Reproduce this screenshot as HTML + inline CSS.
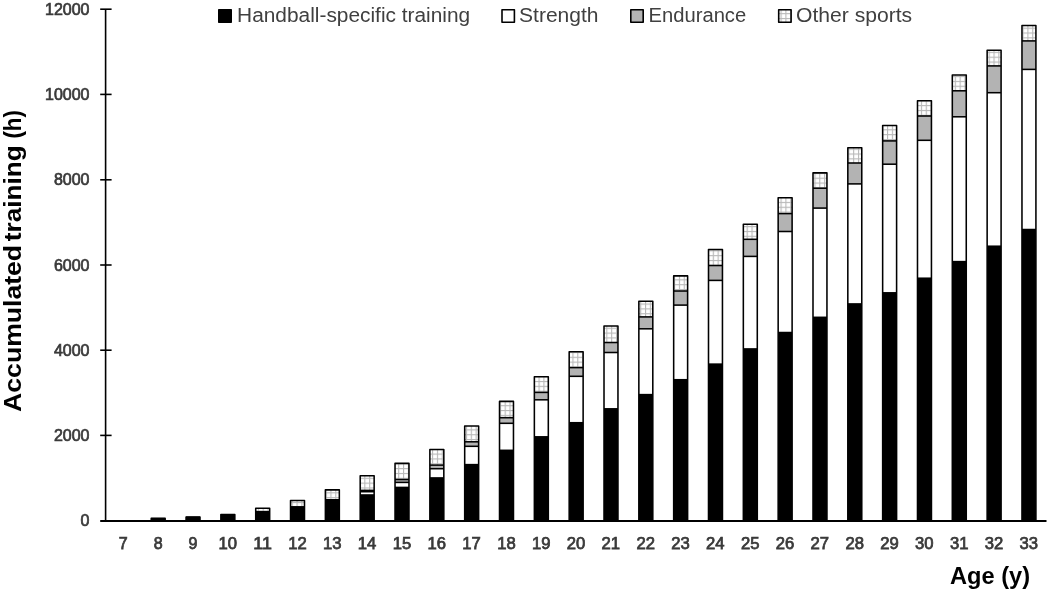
<!DOCTYPE html>
<html><head><meta charset="utf-8"><style>
html,body{margin:0;padding:0;background:#fff;}
body{width:1049px;height:591px;overflow:hidden;}
svg{display:block;filter:grayscale(1);}
text{font-family:"Liberation Sans",sans-serif;}
</style></head><body>
<svg width="1049" height="591" viewBox="0 0 1049 591">
<defs>
<pattern id="grid" patternUnits="userSpaceOnUse" width="4.84" height="4.84" x="1.290" y="3.450">
<rect width="4.84" height="4.84" fill="#fff"/>
<rect x="0" y="0" width="4.84" height="1.1" fill="#b8b8b8"/>
<rect x="0" y="0" width="1.1" height="4.84" fill="#b8b8b8"/>
</pattern>
</defs>
<rect width="1049" height="591" fill="#fff"/>

<rect x="151.22" y="518.38" width="13.95" height="2.23" fill="#fff"/>
<rect x="151.22" y="517.95" width="13.95" height="2.65" fill="#000"/>
<rect x="151.22" y="518.38" width="13.95" height="1.80" fill="none" stroke="#000" stroke-width="1.55" stroke-linejoin="round"/>
<rect x="186.06" y="516.98" width="13.95" height="3.62" fill="#fff"/>
<rect x="186.06" y="516.55" width="13.95" height="4.05" fill="#000"/>
<rect x="186.06" y="516.98" width="13.95" height="3.20" fill="none" stroke="#000" stroke-width="1.55" stroke-linejoin="round"/>
<rect x="220.88" y="514.57" width="13.95" height="6.03" fill="#fff"/>
<rect x="220.88" y="514.15" width="13.95" height="6.45" fill="#000"/>
<rect x="220.88" y="514.57" width="13.95" height="5.60" fill="none" stroke="#000" stroke-width="1.55" stroke-linejoin="round"/>
<rect x="255.72" y="508.27" width="13.95" height="12.33" fill="#fff"/>
<rect x="255.72" y="510.55" width="13.95" height="10.05" fill="#000"/>
<rect x="255.72" y="508.27" width="13.95" height="2.33" fill="url(#grid)"/>
<rect x="255.72" y="508.27" width="13.95" height="11.90" fill="none" stroke="#000" stroke-width="1.55" stroke-linejoin="round"/>
<rect x="290.54" y="500.57" width="13.95" height="20.03" fill="#fff"/>
<rect x="290.54" y="506.05" width="13.95" height="14.55" fill="#000"/>
<rect x="290.54" y="500.57" width="13.95" height="5.42" fill="url(#grid)"/>
<rect x="290.54" y="500.57" width="13.95" height="19.60" fill="none" stroke="#000" stroke-width="1.55" stroke-linejoin="round"/>
<rect x="325.38" y="489.87" width="13.95" height="30.73" fill="#fff"/>
<rect x="325.38" y="498.85" width="13.95" height="21.75" fill="#000"/>
<rect x="325.38" y="489.87" width="13.95" height="8.93" fill="url(#grid)"/>
<rect x="325.38" y="489.87" width="13.95" height="30.30" fill="none" stroke="#000" stroke-width="1.55" stroke-linejoin="round"/>
<rect x="360.20" y="475.77" width="13.95" height="44.83" fill="#fff"/>
<rect x="360.20" y="490.40" width="13.95" height="1.30" fill="#b3b3b3"/>
<rect x="360.20" y="494.20" width="13.95" height="26.40" fill="#000"/>
<rect x="360.20" y="475.77" width="13.95" height="14.62" fill="url(#grid)"/>
<rect x="360.20" y="489.62" width="13.95" height="1.55" fill="#000"/>
<rect x="360.20" y="490.93" width="13.95" height="1.55" fill="#000"/>
<rect x="360.20" y="475.77" width="13.95" height="44.40" fill="none" stroke="#000" stroke-width="1.55" stroke-linejoin="round"/>
<rect x="395.03" y="463.37" width="13.95" height="57.23" fill="#fff"/>
<rect x="395.03" y="479.50" width="13.95" height="2.90" fill="#b3b3b3"/>
<rect x="395.03" y="486.65" width="13.95" height="33.95" fill="#000"/>
<rect x="395.03" y="463.37" width="13.95" height="16.13" fill="url(#grid)"/>
<rect x="395.03" y="478.73" width="13.95" height="1.55" fill="#000"/>
<rect x="395.03" y="481.62" width="13.95" height="1.55" fill="#000"/>
<rect x="395.03" y="463.37" width="13.95" height="56.80" fill="none" stroke="#000" stroke-width="1.55" stroke-linejoin="round"/>
<rect x="429.87" y="449.57" width="13.95" height="71.03" fill="#fff"/>
<rect x="429.87" y="465.10" width="13.95" height="3.60" fill="#b3b3b3"/>
<rect x="429.87" y="477.15" width="13.95" height="43.45" fill="#000"/>
<rect x="429.87" y="449.57" width="13.95" height="15.53" fill="url(#grid)"/>
<rect x="429.87" y="464.33" width="13.95" height="1.55" fill="#000"/>
<rect x="429.87" y="467.93" width="13.95" height="1.55" fill="#000"/>
<rect x="429.87" y="449.57" width="13.95" height="70.60" fill="none" stroke="#000" stroke-width="1.55" stroke-linejoin="round"/>
<rect x="464.69" y="426.07" width="13.95" height="94.53" fill="#fff"/>
<rect x="464.69" y="441.80" width="13.95" height="4.50" fill="#b3b3b3"/>
<rect x="464.69" y="463.85" width="13.95" height="56.75" fill="#000"/>
<rect x="464.69" y="426.07" width="13.95" height="15.72" fill="url(#grid)"/>
<rect x="464.69" y="441.03" width="13.95" height="1.55" fill="#000"/>
<rect x="464.69" y="445.53" width="13.95" height="1.55" fill="#000"/>
<rect x="464.69" y="426.07" width="13.95" height="94.10" fill="none" stroke="#000" stroke-width="1.55" stroke-linejoin="round"/>
<rect x="499.52" y="401.38" width="13.95" height="119.22" fill="#fff"/>
<rect x="499.52" y="417.70" width="13.95" height="5.60" fill="#b3b3b3"/>
<rect x="499.52" y="449.55" width="13.95" height="71.05" fill="#000"/>
<rect x="499.52" y="401.38" width="13.95" height="16.32" fill="url(#grid)"/>
<rect x="499.52" y="416.93" width="13.95" height="1.55" fill="#000"/>
<rect x="499.52" y="422.53" width="13.95" height="1.55" fill="#000"/>
<rect x="499.52" y="401.38" width="13.95" height="118.80" fill="none" stroke="#000" stroke-width="1.55" stroke-linejoin="round"/>
<rect x="534.36" y="376.77" width="13.95" height="143.83" fill="#fff"/>
<rect x="534.36" y="392.40" width="13.95" height="7.40" fill="#b3b3b3"/>
<rect x="534.36" y="436.05" width="13.95" height="84.55" fill="#000"/>
<rect x="534.36" y="376.77" width="13.95" height="15.62" fill="url(#grid)"/>
<rect x="534.36" y="391.62" width="13.95" height="1.55" fill="#000"/>
<rect x="534.36" y="399.03" width="13.95" height="1.55" fill="#000"/>
<rect x="534.36" y="376.77" width="13.95" height="143.40" fill="none" stroke="#000" stroke-width="1.55" stroke-linejoin="round"/>
<rect x="569.18" y="351.77" width="13.95" height="168.83" fill="#fff"/>
<rect x="569.18" y="367.60" width="13.95" height="8.70" fill="#b3b3b3"/>
<rect x="569.18" y="421.95" width="13.95" height="98.65" fill="#000"/>
<rect x="569.18" y="351.77" width="13.95" height="15.83" fill="url(#grid)"/>
<rect x="569.18" y="366.83" width="13.95" height="1.55" fill="#000"/>
<rect x="569.18" y="375.53" width="13.95" height="1.55" fill="#000"/>
<rect x="569.18" y="351.77" width="13.95" height="168.40" fill="none" stroke="#000" stroke-width="1.55" stroke-linejoin="round"/>
<rect x="604.01" y="326.07" width="13.95" height="194.53" fill="#fff"/>
<rect x="604.01" y="342.50" width="13.95" height="10.00" fill="#b3b3b3"/>
<rect x="604.01" y="408.05" width="13.95" height="112.55" fill="#000"/>
<rect x="604.01" y="326.07" width="13.95" height="16.42" fill="url(#grid)"/>
<rect x="604.01" y="341.73" width="13.95" height="1.55" fill="#000"/>
<rect x="604.01" y="351.73" width="13.95" height="1.55" fill="#000"/>
<rect x="604.01" y="326.07" width="13.95" height="194.10" fill="none" stroke="#000" stroke-width="1.55" stroke-linejoin="round"/>
<rect x="638.85" y="301.17" width="13.95" height="219.43" fill="#fff"/>
<rect x="638.85" y="316.90" width="13.95" height="11.90" fill="#b3b3b3"/>
<rect x="638.85" y="393.85" width="13.95" height="126.75" fill="#000"/>
<rect x="638.85" y="301.17" width="13.95" height="15.72" fill="url(#grid)"/>
<rect x="638.85" y="316.12" width="13.95" height="1.55" fill="#000"/>
<rect x="638.85" y="328.03" width="13.95" height="1.55" fill="#000"/>
<rect x="638.85" y="301.17" width="13.95" height="219.00" fill="none" stroke="#000" stroke-width="1.55" stroke-linejoin="round"/>
<rect x="673.67" y="275.88" width="13.95" height="244.72" fill="#fff"/>
<rect x="673.67" y="291.00" width="13.95" height="14.10" fill="#b3b3b3"/>
<rect x="673.67" y="378.95" width="13.95" height="141.65" fill="#000"/>
<rect x="673.67" y="275.88" width="13.95" height="15.12" fill="url(#grid)"/>
<rect x="673.67" y="290.23" width="13.95" height="1.55" fill="#000"/>
<rect x="673.67" y="304.33" width="13.95" height="1.55" fill="#000"/>
<rect x="673.67" y="275.88" width="13.95" height="244.30" fill="none" stroke="#000" stroke-width="1.55" stroke-linejoin="round"/>
<rect x="708.50" y="249.47" width="13.95" height="271.13" fill="#fff"/>
<rect x="708.50" y="265.50" width="13.95" height="14.90" fill="#b3b3b3"/>
<rect x="708.50" y="363.35" width="13.95" height="157.25" fill="#000"/>
<rect x="708.50" y="249.47" width="13.95" height="16.03" fill="url(#grid)"/>
<rect x="708.50" y="264.73" width="13.95" height="1.55" fill="#000"/>
<rect x="708.50" y="279.62" width="13.95" height="1.55" fill="#000"/>
<rect x="708.50" y="249.47" width="13.95" height="270.70" fill="none" stroke="#000" stroke-width="1.55" stroke-linejoin="round"/>
<rect x="743.34" y="224.18" width="13.95" height="296.43" fill="#fff"/>
<rect x="743.34" y="239.30" width="13.95" height="17.10" fill="#b3b3b3"/>
<rect x="743.34" y="348.15" width="13.95" height="172.45" fill="#000"/>
<rect x="743.34" y="224.18" width="13.95" height="15.13" fill="url(#grid)"/>
<rect x="743.34" y="238.53" width="13.95" height="1.55" fill="#000"/>
<rect x="743.34" y="255.62" width="13.95" height="1.55" fill="#000"/>
<rect x="743.34" y="224.18" width="13.95" height="296.00" fill="none" stroke="#000" stroke-width="1.55" stroke-linejoin="round"/>
<rect x="778.16" y="197.78" width="13.95" height="322.83" fill="#fff"/>
<rect x="778.16" y="213.60" width="13.95" height="17.90" fill="#b3b3b3"/>
<rect x="778.16" y="331.75" width="13.95" height="188.85" fill="#000"/>
<rect x="778.16" y="197.78" width="13.95" height="15.82" fill="url(#grid)"/>
<rect x="778.16" y="212.82" width="13.95" height="1.55" fill="#000"/>
<rect x="778.16" y="230.72" width="13.95" height="1.55" fill="#000"/>
<rect x="778.16" y="197.78" width="13.95" height="322.40" fill="none" stroke="#000" stroke-width="1.55" stroke-linejoin="round"/>
<rect x="813.00" y="172.88" width="13.95" height="347.73" fill="#fff"/>
<rect x="813.00" y="188.20" width="13.95" height="19.90" fill="#b3b3b3"/>
<rect x="813.00" y="316.55" width="13.95" height="204.05" fill="#000"/>
<rect x="813.00" y="172.88" width="13.95" height="15.32" fill="url(#grid)"/>
<rect x="813.00" y="187.42" width="13.95" height="1.55" fill="#000"/>
<rect x="813.00" y="207.32" width="13.95" height="1.55" fill="#000"/>
<rect x="813.00" y="172.88" width="13.95" height="347.30" fill="none" stroke="#000" stroke-width="1.55" stroke-linejoin="round"/>
<rect x="847.82" y="147.68" width="13.95" height="372.93" fill="#fff"/>
<rect x="847.82" y="163.00" width="13.95" height="20.90" fill="#b3b3b3"/>
<rect x="847.82" y="303.15" width="13.95" height="217.45" fill="#000"/>
<rect x="847.82" y="147.68" width="13.95" height="15.32" fill="url(#grid)"/>
<rect x="847.82" y="162.22" width="13.95" height="1.55" fill="#000"/>
<rect x="847.82" y="183.12" width="13.95" height="1.55" fill="#000"/>
<rect x="847.82" y="147.68" width="13.95" height="372.50" fill="none" stroke="#000" stroke-width="1.55" stroke-linejoin="round"/>
<rect x="882.65" y="125.48" width="13.95" height="395.13" fill="#fff"/>
<rect x="882.65" y="140.90" width="13.95" height="23.30" fill="#b3b3b3"/>
<rect x="882.65" y="292.05" width="13.95" height="228.55" fill="#000"/>
<rect x="882.65" y="125.48" width="13.95" height="15.43" fill="url(#grid)"/>
<rect x="882.65" y="140.12" width="13.95" height="1.55" fill="#000"/>
<rect x="882.65" y="163.42" width="13.95" height="1.55" fill="#000"/>
<rect x="882.65" y="125.48" width="13.95" height="394.70" fill="none" stroke="#000" stroke-width="1.55" stroke-linejoin="round"/>
<rect x="917.49" y="100.78" width="13.95" height="419.83" fill="#fff"/>
<rect x="917.49" y="116.00" width="13.95" height="24.30" fill="#b3b3b3"/>
<rect x="917.49" y="277.45" width="13.95" height="243.15" fill="#000"/>
<rect x="917.49" y="100.78" width="13.95" height="15.22" fill="url(#grid)"/>
<rect x="917.49" y="115.22" width="13.95" height="1.55" fill="#000"/>
<rect x="917.49" y="139.53" width="13.95" height="1.55" fill="#000"/>
<rect x="917.49" y="100.78" width="13.95" height="419.40" fill="none" stroke="#000" stroke-width="1.55" stroke-linejoin="round"/>
<rect x="952.31" y="75.08" width="13.95" height="445.53" fill="#fff"/>
<rect x="952.31" y="90.80" width="13.95" height="26.00" fill="#b3b3b3"/>
<rect x="952.31" y="260.85" width="13.95" height="259.75" fill="#000"/>
<rect x="952.31" y="75.08" width="13.95" height="15.72" fill="url(#grid)"/>
<rect x="952.31" y="90.02" width="13.95" height="1.55" fill="#000"/>
<rect x="952.31" y="116.02" width="13.95" height="1.55" fill="#000"/>
<rect x="952.31" y="75.08" width="13.95" height="445.10" fill="none" stroke="#000" stroke-width="1.55" stroke-linejoin="round"/>
<rect x="987.14" y="50.17" width="13.95" height="470.43" fill="#fff"/>
<rect x="987.14" y="65.90" width="13.95" height="26.80" fill="#b3b3b3"/>
<rect x="987.14" y="245.45" width="13.95" height="275.15" fill="#000"/>
<rect x="987.14" y="50.17" width="13.95" height="15.73" fill="url(#grid)"/>
<rect x="987.14" y="65.12" width="13.95" height="1.55" fill="#000"/>
<rect x="987.14" y="91.92" width="13.95" height="1.55" fill="#000"/>
<rect x="987.14" y="50.17" width="13.95" height="470.00" fill="none" stroke="#000" stroke-width="1.55" stroke-linejoin="round"/>
<rect x="1021.97" y="25.57" width="13.95" height="495.03" fill="#fff"/>
<rect x="1021.97" y="40.90" width="13.95" height="28.50" fill="#b3b3b3"/>
<rect x="1021.97" y="228.75" width="13.95" height="291.85" fill="#000"/>
<rect x="1021.97" y="25.57" width="13.95" height="15.32" fill="url(#grid)"/>
<rect x="1021.97" y="40.12" width="13.95" height="1.55" fill="#000"/>
<rect x="1021.97" y="68.62" width="13.95" height="1.55" fill="#000"/>
<rect x="1021.97" y="25.57" width="13.95" height="494.60" fill="none" stroke="#000" stroke-width="1.55" stroke-linejoin="round"/>
<line x1="105.6" y1="9.2" x2="105.6" y2="520.6" stroke="#000" stroke-width="1.6"/>
<line x1="100.2" y1="520.95" x2="1046.5" y2="520.95" stroke="#000" stroke-width="1.9"/>
<text x="89.5" y="526.1" text-anchor="end" font-size="16" fill="#3a3a3a" stroke="#3a3a3a" stroke-width="0.7">0</text>
<line x1="100.2" y1="435.4" x2="111.6" y2="435.4" stroke="#000" stroke-width="1.6"/>
<text x="89.5" y="440.9" text-anchor="end" font-size="16" fill="#3a3a3a" stroke="#3a3a3a" stroke-width="0.7">2000</text>
<line x1="100.2" y1="350.2" x2="111.6" y2="350.2" stroke="#000" stroke-width="1.6"/>
<text x="89.5" y="355.7" text-anchor="end" font-size="16" fill="#3a3a3a" stroke="#3a3a3a" stroke-width="0.7">4000</text>
<line x1="100.2" y1="265.0" x2="111.6" y2="265.0" stroke="#000" stroke-width="1.6"/>
<text x="89.5" y="270.5" text-anchor="end" font-size="16" fill="#3a3a3a" stroke="#3a3a3a" stroke-width="0.7">6000</text>
<line x1="100.2" y1="179.8" x2="111.6" y2="179.8" stroke="#000" stroke-width="1.6"/>
<text x="89.5" y="185.3" text-anchor="end" font-size="16" fill="#3a3a3a" stroke="#3a3a3a" stroke-width="0.7">8000</text>
<line x1="100.2" y1="94.4" x2="111.6" y2="94.4" stroke="#000" stroke-width="1.6"/>
<text x="89.5" y="99.9" text-anchor="end" font-size="16" fill="#3a3a3a" stroke="#3a3a3a" stroke-width="0.7">10000</text>
<line x1="100.2" y1="9.2" x2="111.6" y2="9.2" stroke="#000" stroke-width="1.6"/>
<text x="89.5" y="14.7" text-anchor="end" font-size="16" fill="#3a3a3a" stroke="#3a3a3a" stroke-width="0.7">12000</text>
<text x="123.27" y="548.7" text-anchor="middle" font-size="16" fill="#3a3a3a" stroke="#3a3a3a" stroke-width="0.75">7</text>
<text x="158.10" y="548.7" text-anchor="middle" font-size="16" fill="#3a3a3a" stroke="#3a3a3a" stroke-width="0.75">8</text>
<text x="192.93" y="548.7" text-anchor="middle" font-size="16" fill="#3a3a3a" stroke="#3a3a3a" stroke-width="0.75">9</text>
<text x="227.76" y="548.7" text-anchor="middle" font-size="16" fill="#3a3a3a" stroke="#3a3a3a" stroke-width="0.75" textLength="18.5" lengthAdjust="spacingAndGlyphs">10</text>
<text x="262.59" y="548.7" text-anchor="middle" font-size="16" fill="#3a3a3a" stroke="#3a3a3a" stroke-width="0.75" textLength="18.5" lengthAdjust="spacingAndGlyphs">11</text>
<text x="297.42" y="548.7" text-anchor="middle" font-size="16" fill="#3a3a3a" stroke="#3a3a3a" stroke-width="0.75" textLength="18.5" lengthAdjust="spacingAndGlyphs">12</text>
<text x="332.25" y="548.7" text-anchor="middle" font-size="16" fill="#3a3a3a" stroke="#3a3a3a" stroke-width="0.75" textLength="18.5" lengthAdjust="spacingAndGlyphs">13</text>
<text x="367.08" y="548.7" text-anchor="middle" font-size="16" fill="#3a3a3a" stroke="#3a3a3a" stroke-width="0.75" textLength="18.5" lengthAdjust="spacingAndGlyphs">14</text>
<text x="401.91" y="548.7" text-anchor="middle" font-size="16" fill="#3a3a3a" stroke="#3a3a3a" stroke-width="0.75" textLength="18.5" lengthAdjust="spacingAndGlyphs">15</text>
<text x="436.74" y="548.7" text-anchor="middle" font-size="16" fill="#3a3a3a" stroke="#3a3a3a" stroke-width="0.75" textLength="18.5" lengthAdjust="spacingAndGlyphs">16</text>
<text x="471.57" y="548.7" text-anchor="middle" font-size="16" fill="#3a3a3a" stroke="#3a3a3a" stroke-width="0.75" textLength="18.5" lengthAdjust="spacingAndGlyphs">17</text>
<text x="506.40" y="548.7" text-anchor="middle" font-size="16" fill="#3a3a3a" stroke="#3a3a3a" stroke-width="0.75" textLength="18.5" lengthAdjust="spacingAndGlyphs">18</text>
<text x="541.23" y="548.7" text-anchor="middle" font-size="16" fill="#3a3a3a" stroke="#3a3a3a" stroke-width="0.75" textLength="18.5" lengthAdjust="spacingAndGlyphs">19</text>
<text x="576.06" y="548.7" text-anchor="middle" font-size="16" fill="#3a3a3a" stroke="#3a3a3a" stroke-width="0.75" textLength="18.5" lengthAdjust="spacingAndGlyphs">20</text>
<text x="610.89" y="548.7" text-anchor="middle" font-size="16" fill="#3a3a3a" stroke="#3a3a3a" stroke-width="0.75" textLength="18.5" lengthAdjust="spacingAndGlyphs">21</text>
<text x="645.72" y="548.7" text-anchor="middle" font-size="16" fill="#3a3a3a" stroke="#3a3a3a" stroke-width="0.75" textLength="18.5" lengthAdjust="spacingAndGlyphs">22</text>
<text x="680.55" y="548.7" text-anchor="middle" font-size="16" fill="#3a3a3a" stroke="#3a3a3a" stroke-width="0.75" textLength="18.5" lengthAdjust="spacingAndGlyphs">23</text>
<text x="715.38" y="548.7" text-anchor="middle" font-size="16" fill="#3a3a3a" stroke="#3a3a3a" stroke-width="0.75" textLength="18.5" lengthAdjust="spacingAndGlyphs">24</text>
<text x="750.21" y="548.7" text-anchor="middle" font-size="16" fill="#3a3a3a" stroke="#3a3a3a" stroke-width="0.75" textLength="18.5" lengthAdjust="spacingAndGlyphs">25</text>
<text x="785.04" y="548.7" text-anchor="middle" font-size="16" fill="#3a3a3a" stroke="#3a3a3a" stroke-width="0.75" textLength="18.5" lengthAdjust="spacingAndGlyphs">26</text>
<text x="819.87" y="548.7" text-anchor="middle" font-size="16" fill="#3a3a3a" stroke="#3a3a3a" stroke-width="0.75" textLength="18.5" lengthAdjust="spacingAndGlyphs">27</text>
<text x="854.70" y="548.7" text-anchor="middle" font-size="16" fill="#3a3a3a" stroke="#3a3a3a" stroke-width="0.75" textLength="18.5" lengthAdjust="spacingAndGlyphs">28</text>
<text x="889.53" y="548.7" text-anchor="middle" font-size="16" fill="#3a3a3a" stroke="#3a3a3a" stroke-width="0.75" textLength="18.5" lengthAdjust="spacingAndGlyphs">29</text>
<text x="924.36" y="548.7" text-anchor="middle" font-size="16" fill="#3a3a3a" stroke="#3a3a3a" stroke-width="0.75" textLength="18.5" lengthAdjust="spacingAndGlyphs">30</text>
<text x="959.19" y="548.7" text-anchor="middle" font-size="16" fill="#3a3a3a" stroke="#3a3a3a" stroke-width="0.75" textLength="18.5" lengthAdjust="spacingAndGlyphs">31</text>
<text x="994.02" y="548.7" text-anchor="middle" font-size="16" fill="#3a3a3a" stroke="#3a3a3a" stroke-width="0.75" textLength="18.5" lengthAdjust="spacingAndGlyphs">32</text>
<text x="1028.85" y="548.7" text-anchor="middle" font-size="16" fill="#3a3a3a" stroke="#3a3a3a" stroke-width="0.75" textLength="18.5" lengthAdjust="spacingAndGlyphs">33</text>
<text x="950" y="583.8" font-size="24" font-weight="bold" fill="#000" textLength="80" lengthAdjust="spacingAndGlyphs">Age (y)</text>
<text transform="translate(21.4,411.9) rotate(-90)" x="0" y="0" font-size="24.5" font-weight="bold" fill="#000" textLength="167.0" lengthAdjust="spacingAndGlyphs">Accumulated</text>
<text transform="translate(21.4,241.2) rotate(-90)" x="0" y="0" font-size="24.5" font-weight="bold" fill="#000" textLength="96.0" lengthAdjust="spacingAndGlyphs">training</text>
<text transform="translate(21.4,138.6) rotate(-90)" x="0" y="0" font-size="24.5" font-weight="bold" fill="#000" textLength="28.5" lengthAdjust="spacingAndGlyphs">(h)</text>
<rect x="218.8" y="9.8" width="12.4" height="12.4" fill="#000" stroke="#000" stroke-width="1.6" stroke-linejoin="round"/>
<text x="237.1" y="21.7" font-size="19.5" fill="#404040" textLength="233.1" lengthAdjust="spacingAndGlyphs">Handball-specific training</text>
<rect x="502.0" y="9.8" width="12.4" height="12.4" fill="#fff" stroke="#000" stroke-width="1.6" stroke-linejoin="round"/>
<text x="519.1" y="21.7" font-size="19.5" fill="#404040" textLength="79.4" lengthAdjust="spacingAndGlyphs">Strength</text>
<rect x="630.8" y="9.8" width="12.4" height="12.4" fill="#b3b3b3" stroke="#000" stroke-width="1.6" stroke-linejoin="round"/>
<text x="648.5" y="21.7" font-size="19.5" fill="#404040" textLength="97.7" lengthAdjust="spacingAndGlyphs">Endurance</text>
<rect x="778.7" y="9.8" width="12.4" height="12.4" fill="url(#grid)" stroke="#000" stroke-width="1.6" stroke-linejoin="round"/>
<text x="796.0" y="21.7" font-size="19.5" fill="#404040" textLength="116.1" lengthAdjust="spacingAndGlyphs">Other sports</text>
</svg></body></html>
